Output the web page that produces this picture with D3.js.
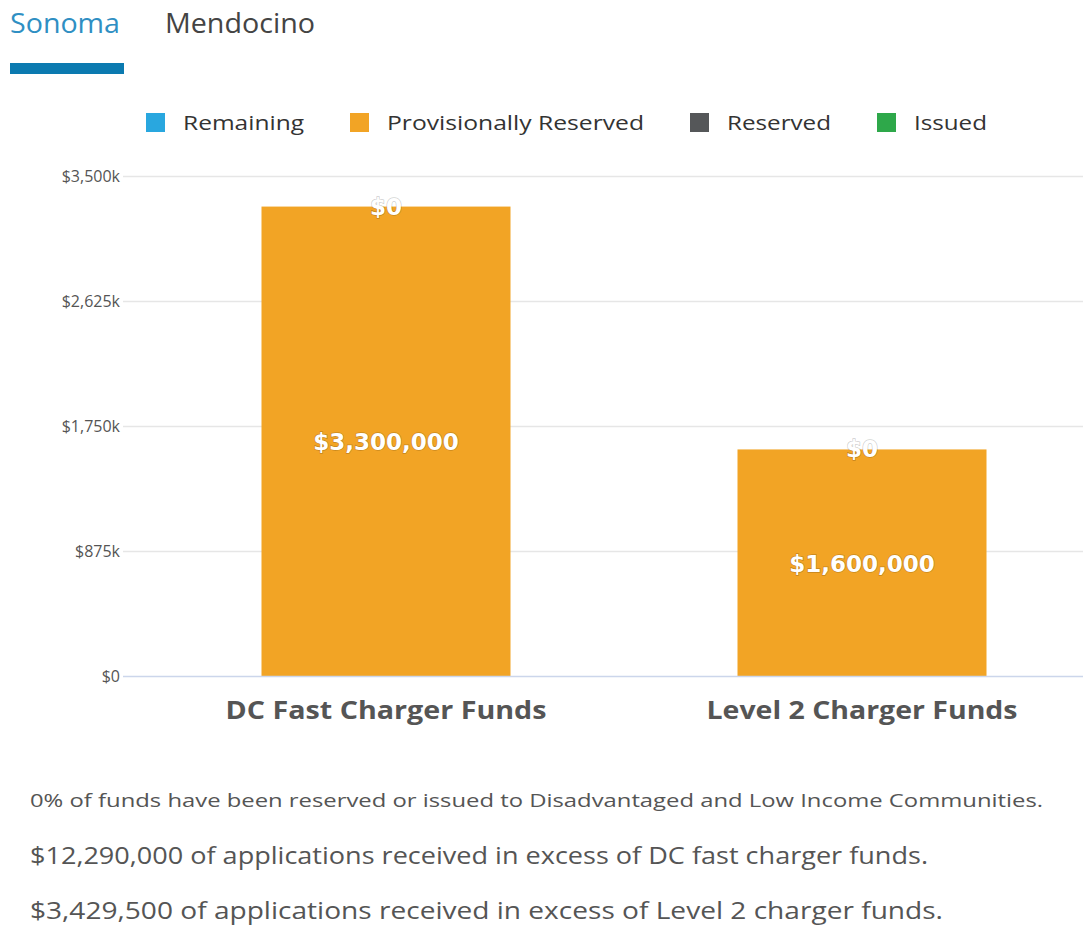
<!DOCTYPE html>
<html>
<head>
<meta charset="utf-8">
<script src="https://cdn.jsdelivr.net/npm/d3@7"></script>
<style>
  body { margin: 0; background: #fff; font-family: "Open Sans", sans-serif; }
  svg text { font-family: "Open Sans", sans-serif; }
</style>
</head>
<body>
<div id="chart"></div>
<script>
// data
const tabs = ["Sonoma", "Mendocino"];
const categories = ["DC Fast Charger Funds", "Level 2 Charger Funds"];
const seriesNames = ["Remaining", "Provisionally Reserved", "Reserved", "Issued"];
const seriesColors = ["#29a7df", "#f2a425", "#555759", "#2ea84a"];
const remaining = [0, 0];
const provisional = [3300000, 1600000];
const reserved = [0, 0];
const issued = [0, 0];
const yTicks = [0, 875000, 1750000, 2625000, 3500000];
const notes = [
    "0% of funds have been reserved or issued to Disadvantaged and Low Income Communities.",
    "$12,290,000 of applications received in excess of DC fast charger funds.",
    "$3,429,500 of applications received in excess of Level 2 charger funds."
];

const width = 1083, height = 929;
const svg = d3.select("#chart").append("svg")
    .attr("width", width)
    .attr("height", height);

// tabs
const tabX = [10, 165], tabLen = [110, 150], tabColor = ["#2f8fc3", "#444"];
tabs.forEach((t, i) => {
    svg.append("text").attr("x", tabX[i]).attr("y", 33)
        .attr("font-size", 27).attr("fill", tabColor[i])
        .attr("textLength", tabLen[i]).attr("lengthAdjust", "spacingAndGlyphs")
        .text(t);
});
svg.append("rect").attr("x", 10).attr("y", 63).attr("width", 114).attr("height", 11)
    .attr("fill", "#0b7ab0");

// legend
const legendX = [146, 350, 690, 877];
const legendLen = [121, 257, 104, 73];
const legend = svg.append("g");
seriesNames.forEach((name, i) => {
    legend.append("rect")
        .attr("x", legendX[i]).attr("y", 113)
        .attr("width", 19).attr("height", 19)
        .attr("fill", seriesColors[i]);
    legend.append("text")
        .attr("x", legendX[i] + 37).attr("y", 130)
        .attr("font-size", 20).attr("fill", "#333")
        .attr("textLength", legendLen[i]).attr("lengthAdjust", "spacingAndGlyphs")
        .text(name);
});

// scales
const y = d3.scaleLinear().domain([0, 3500000]).range([676, 176]);
const x = d3.scaleBand().domain(categories).range([148, 1100]);
const barW = 249;

// grid
svg.append("g").selectAll("line")
    .data(yTicks.slice(1))
    .enter().append("line")
    .attr("x1", 123).attr("x2", width)
    .attr("y1", d => y(d) + 0.5).attr("y2", d => y(d) + 0.5)
    .attr("stroke", "#e6e6e6").attr("stroke-width", 1.5);

// y labels
svg.append("g").selectAll("text")
    .data(yTicks)
    .enter().append("text")
    .attr("x", 120).attr("y", d => y(d) + 6)
    .attr("text-anchor", "end")
    .attr("font-size", 16).attr("fill", "#555")
    .text(d => d === 0 ? "$0" : "$" + d3.format(",")(d / 1000) + "k");

// stacked bars, first series on top
const rows = categories.map((c, i) => ({
    cat: c, Remaining: remaining[i], "Provisionally Reserved": provisional[i],
    Reserved: reserved[i], Issued: issued[i]
}));
const stack = d3.stack().keys(seriesNames.slice().reverse());
const layers = stack(rows);

const colorOf = d3.scaleOrdinal().domain(seriesNames).range(seriesColors);

layers.forEach(layer => {
    svg.append("g").selectAll("rect")
        .data(layer)
        .enter().append("rect")
        .attr("x", d => x(d.data.cat) + x.bandwidth() / 2 - barW / 2)
        .attr("y", d => y(d[1]) + 2)
        .attr("width", barW)
        .attr("height", d => Math.max(0, y(d[0]) - y(d[1]) - 2))
        .attr("fill", colorOf(layer.key));
});

// data labels
layers.forEach(layer => {
    const g = svg.append("g");
    layer.forEach(d => {
        if (d[0] === 0 && d[1] === 0) return; // would sit below the plot
        const cy = (y(d[0]) + y(d[1])) / 2;
        g.append("text")
            .attr("x", x(d.data.cat) + x.bandwidth() / 2)
            .attr("y", cy + 10)
            .attr("text-anchor", "middle")
            .style("font-family", "'DejaVu Sans', sans-serif")
            .attr("font-size", 23).attr("font-weight", "bold")
            .attr("fill", "#fff")
            .attr("stroke", "rgba(0,0,0,0.2)").attr("stroke-width", 1.5)
            .attr("paint-order", "stroke")
            .text("$" + d3.format(",")(d[1] - d[0]));
    });
});

// x axis line
svg.append("line")
    .attr("x1", 123).attr("x2", width)
    .attr("y1", 676.5).attr("y2", 676.5)
    .attr("stroke", "#ccd6eb").attr("stroke-width", 1.5);

// category labels
const catLen = [321, 311];
svg.append("g").selectAll("text")
    .data(categories)
    .enter().append("text")
    .attr("x", d => x(d) + x.bandwidth() / 2)
    .attr("y", 719)
    .attr("text-anchor", "middle")
    .attr("font-size", 25).attr("font-weight", "bold")
    .attr("fill", "#555")
    .attr("textLength", (d, i) => catLen[i]).attr("lengthAdjust", "spacingAndGlyphs")
    .text(d => d);

// notes below chart
const noteY = [807, 864, 919];
const noteSize = [18, 23, 23];
const noteLen = [1013, 898, 913];
notes.forEach((n, i) => {
    svg.append("text")
        .attr("x", 30).attr("y", noteY[i])
        .attr("font-size", noteSize[i])
        .attr("fill", "#555")
        .attr("textLength", noteLen[i])
        .attr("lengthAdjust", "spacingAndGlyphs")
        .text(n);
});
</script>
</body>
</html>
